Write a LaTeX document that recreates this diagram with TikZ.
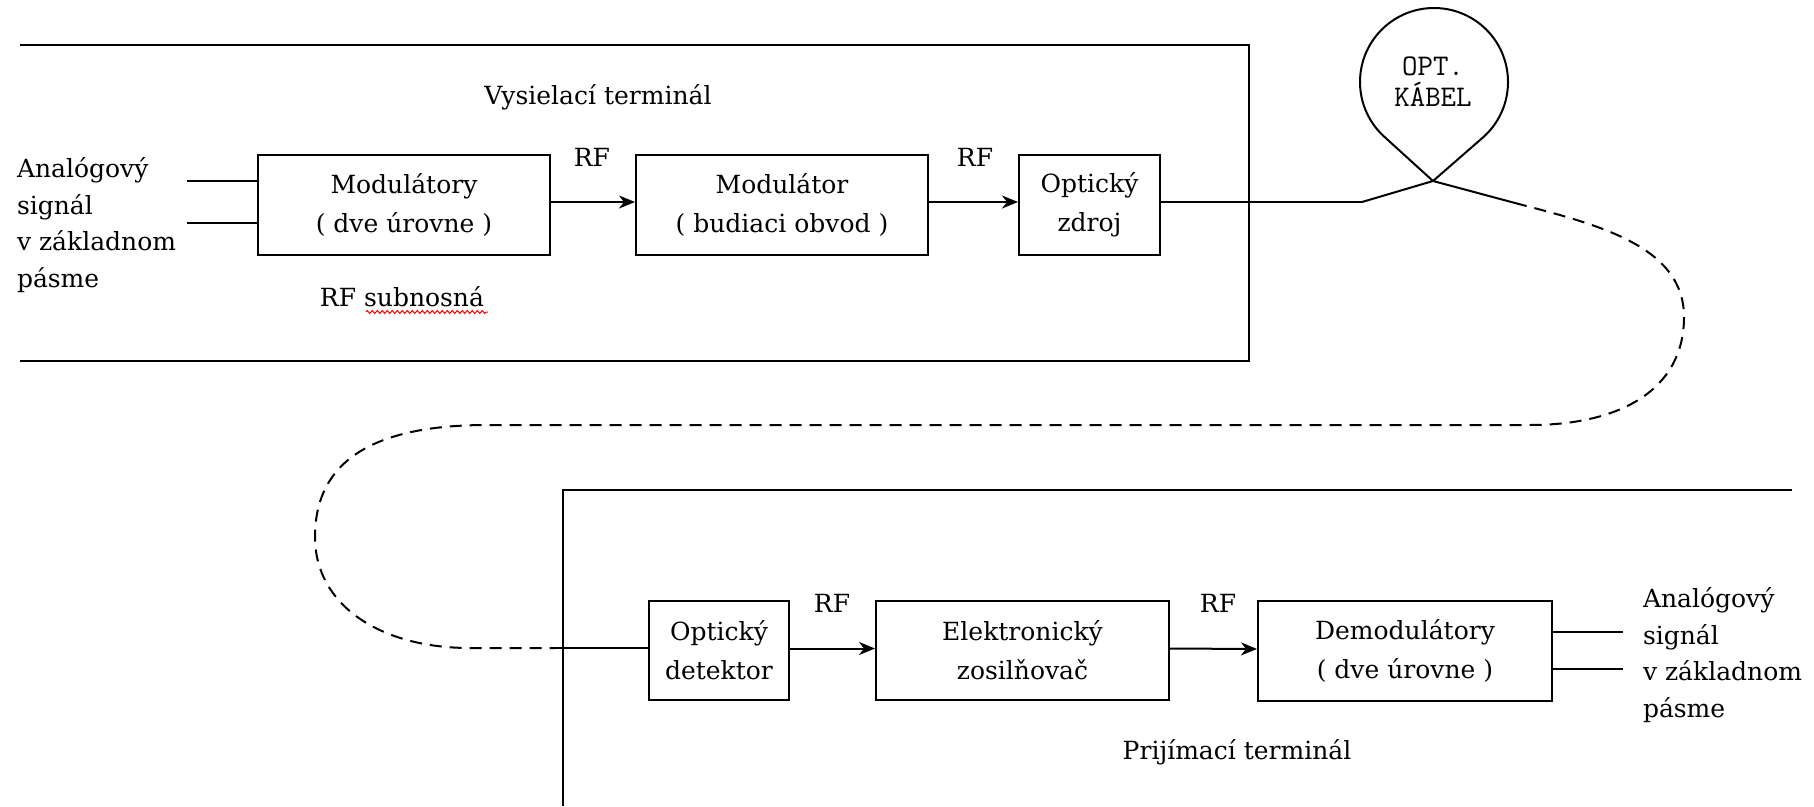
\documentclass[tikz,border=0pt]{standalone}
\usepackage{fontspec}
\setmainfont{DejaVu Serif}
\usetikzlibrary{arrows.meta,decorations.pathmorphing}
\begin{document}
\begin{tikzpicture}[x=1pt,y=-1pt, line width=2pt,
  txt/.style={font=\fontsize{25}{36.5}\selectfont, inner sep=0pt},
  blk/.style={draw, inner sep=0pt, align=center, font=\fontsize{25}{39}\selectfont},
  arr/.style={-{Stealth[length=16pt,width=13pt,inset=5pt]}},
  cable/.style={dash pattern=on 12pt off 8pt}]
\useasboundingbox (0,0) rectangle (1814,806);

% terminal frames
\draw (20,45) -- (1249,45) -- (1249,361) -- (20,361);
\draw (563,806) -- (563,490) -- (1792,490);

% transmitter
\node[txt] (vys) at (598,97) {Vysielací terminál};
\node[blk, minimum width=292pt, minimum height=100pt] (mods) at (404,205) {Modulátory\\( dve úrovne )};
\node[blk, minimum width=292pt, minimum height=100pt] (mod) at (782,205) {Modulátor\\( budiaci obvod )};
\node[blk, minimum width=141pt, minimum height=100pt] (zdroj) at (1089.5,205) {Optický\\zdroj};
\node[txt] (rf1) at (592,157) {RF};
\node[txt] (rf2) at (975,157) {RF};
\node[txt] (sub) at (402,297) {RF subnosná};
\draw[red, line width=1pt, decorate, decoration={zigzag, segment length=5pt, amplitude=1.5pt}] (366,312) -- (488,312);
\node[txt, align=left, anchor=base west] (inL) at (16,287) {Analógový\\signál\\v základnom\\pásme};
\coordinate (in1) at (187,181);
\coordinate (in2) at (187,223);
\draw (in1) -- (in1 -| mods.west);
\draw (in2) -- (in2 -| mods.west);
\draw[arr] ([yshift=3pt]mods.east) -- ([yshift=3pt]mod.west);
\draw[arr] ([yshift=3pt]mod.east) -- ([yshift=3pt]zdroj.west);

% cable
\coordinate (cL) at (1362,202);
\coordinate (cX) at (1433,181);
\coordinate (cR) at (1515,203);
\coordinate (dE) at (555,648);
\draw ([yshift=3pt]zdroj.east) -- (cL);
\draw (cL) -- (cX) -- (1483.1,137.3)
  .. controls (1499,123.2) and (1508,103.2) .. (1508,82)
  .. controls (1508,41.1) and (1474.9,8) .. (1434,8)
  .. controls (1393.1,8) and (1360,41.1) .. (1360,82)
  .. controls (1360,103.2) and (1369,123.2) .. (1384.9,137.3)
  -- (cX) -- (cR);
\node[font=\ttfamily\fontsize{30}{31}\selectfont, align=center, inner sep=0pt] (kabel) at (1433,82) {OPT.\\KÁBEL};
\draw[cable] (cR) .. controls (1595,224) and (1684,245) .. (1684,317)
  .. controls (1684,390) and (1620,425) .. (1530,425) -- (487,425)
  .. controls (360,425) and (315,470) .. (315,537)
  .. controls (315,605) and (380,648) .. (470,648) -- (dE);

% receiver
\node[blk, minimum width=140pt, minimum height=99pt] (det) at (719,650.5) {Optický\\detektor};
\node[blk, minimum width=293pt, minimum height=99pt] (amp) at (1022.5,650.5) {Elektronický\\zosilňovač};
\node[blk, minimum width=294pt, minimum height=100pt] (demod) at (1405,651) {Demodulátory\\( dve úrovne )};
\node[txt] (rf3) at (832,603) {RF};
\node[txt] (rf4) at (1218,603) {RF};
\node[txt] (prij) at (1237,752) {Prijímací terminál};
\draw (dE) -- (dE -| det.west);
\draw[arr] ([yshift=2pt]det.east) -- ([yshift=2pt]amp.west);
\draw[arr] ([yshift=2pt]amp.east) -- ([yshift=2pt]demod.west);
\coordinate (out1) at (1623,632);
\coordinate (out2) at (1623,669);
\draw (demod.east |- out1) -- (out1);
\draw (demod.east |- out2) -- (out2);
\node[txt, align=left, anchor=base west] (outR) at (1642,717) {Analógový\\signál\\v základnom\\pásme};
\end{tikzpicture}
\end{document}
